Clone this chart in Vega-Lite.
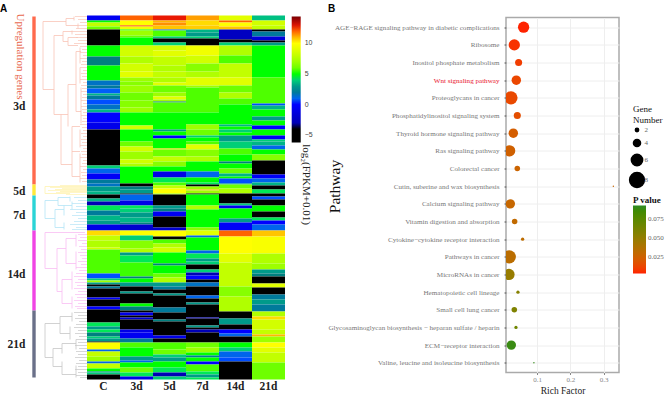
{"$schema":"https://vega.github.io/schema/vega-lite/v6.json","background":"white","padding":{"left":0,"top":2.5,"right":0,"bottom":0},"bounds":"flush","center":true,"spacing":0,"resolve":{"scale":{"color":"independent","size":"independent"},"legend":{"color":"independent","size":"independent"}},"config":{"view":{"stroke":null},"font":"Liberation Serif"},
"datasets":{
"cells":[
{"c":"C","a":14,"b":19,"v":-0.5},{"c":"C","a":19,"b":21,"v":5},{"c":"C","a":21,"b":25,"v":8},{"c":"C","a":25,"b":28,"v":6},{"c":"C","a":28,"b":44,"v":-5},{"c":"C","a":44,"b":55,"v":5},{"c":"C","a":55,"b":64,"v":2.5},{"c":"C","a":64,"b":79,"v":5},{"c":"C","a":79,"b":84,"v":1.5},{"c":"C","a":84,"b":87,"v":2},{"c":"C","a":87,"b":92,"v":0.8},{"c":"C","a":92,"b":94,"v":3.5},{"c":"C","a":94,"b":98,"v":2},{"c":"C","a":98,"b":103,"v":0.5},{"c":"C","a":103,"b":108,"v":1.5},{"c":"C","a":108,"b":111,"v":3.5},{"c":"C","a":111,"b":121,"v":0},{"c":"C","a":121,"b":128,"v":-0.8},{"c":"C","a":128,"b":164,"v":-5},{"c":"C","a":164,"b":167,"v":4},{"c":"C","a":167,"b":172,"v":1},{"c":"C","a":172,"b":178,"v":-0.3},{"c":"C","a":178,"b":182,"v":2},{"c":"C","a":182,"b":185,"v":1.5},{"c":"C","a":185,"b":190,"v":3},{"c":"C","a":190,"b":193,"v":3.5},{"c":"C","a":193,"b":197,"v":-5},{"c":"C","a":197,"b":200,"v":3.5},{"c":"C","a":200,"b":204,"v":-3},{"c":"C","a":204,"b":209,"v":4.5},{"c":"C","a":209,"b":214,"v":2},{"c":"C","a":214,"b":219,"v":3.5},{"c":"C","a":219,"b":223,"v":3},{"c":"C","a":223,"b":229,"v":-1},{"c":"C","a":229,"b":234,"v":10.5},{"c":"C","a":234,"b":239,"v":8},{"c":"C","a":239,"b":246,"v":7.5},{"c":"C","a":246,"b":248,"v":8.5},{"c":"C","a":248,"b":272,"v":5.5},{"c":"C","a":272,"b":277,"v":0.5},{"c":"C","a":277,"b":279,"v":4},{"c":"C","a":279,"b":281,"v":7},{"c":"C","a":281,"b":283,"v":3},{"c":"C","a":283,"b":285,"v":-4},{"c":"C","a":285,"b":287,"v":2},{"c":"C","a":287,"b":296,"v":-5},{"c":"C","a":296,"b":298,"v":0},{"c":"C","a":298,"b":305,"v":-5},{"c":"C","a":305,"b":308,"v":0},{"c":"C","a":308,"b":321,"v":-5},{"c":"C","a":321,"b":325,"v":4.5},{"c":"C","a":325,"b":328,"v":3},{"c":"C","a":328,"b":331,"v":4.5},{"c":"C","a":331,"b":335,"v":2.5},{"c":"C","a":335,"b":337,"v":4},{"c":"C","a":337,"b":340,"v":3},{"c":"C","a":340,"b":341,"v":-5},{"c":"C","a":341,"b":348,"v":10},{"c":"C","a":348,"b":350,"v":1},{"c":"C","a":350,"b":355,"v":8},{"c":"C","a":355,"b":360,"v":7},{"c":"C","a":360,"b":362,"v":1},{"c":"C","a":362,"b":367,"v":8},{"c":"C","a":367,"b":370,"v":5},{"c":"C","a":370,"b":371,"v":2},{"c":"C","a":371,"b":373,"v":4},{"c":"C","a":373,"b":378,"v":-5},
{"c":"3d","a":14,"b":19,"v":12},{"c":"3d","a":19,"b":24,"v":10},{"c":"3d","a":24,"b":25,"v":12.5},{"c":"3d","a":25,"b":28,"v":9.5},{"c":"3d","a":28,"b":29,"v":5},{"c":"3d","a":29,"b":34,"v":7},{"c":"3d","a":34,"b":36,"v":6},{"c":"3d","a":36,"b":44,"v":5},{"c":"3d","a":44,"b":55,"v":8.5},{"c":"3d","a":55,"b":62,"v":7.5},{"c":"3d","a":62,"b":70,"v":8.5},{"c":"3d","a":70,"b":76,"v":9},{"c":"3d","a":76,"b":80,"v":7},{"c":"3d","a":80,"b":84,"v":6.5},{"c":"3d","a":84,"b":91,"v":7},{"c":"3d","a":91,"b":99,"v":6},{"c":"3d","a":99,"b":106,"v":6.5},{"c":"3d","a":106,"b":111,"v":7},{"c":"3d","a":111,"b":124,"v":5},{"c":"3d","a":124,"b":128,"v":8.5},{"c":"3d","a":128,"b":140,"v":5},{"c":"3d","a":140,"b":145,"v":6},{"c":"3d","a":145,"b":150,"v":8.5},{"c":"3d","a":150,"b":158,"v":7},{"c":"3d","a":158,"b":162,"v":8.5},{"c":"3d","a":162,"b":165,"v":7.5},{"c":"3d","a":165,"b":182,"v":5},{"c":"3d","a":182,"b":185,"v":-5},{"c":"3d","a":185,"b":188,"v":2.5},{"c":"3d","a":188,"b":192,"v":3},{"c":"3d","a":192,"b":193,"v":-5},{"c":"3d","a":193,"b":199,"v":1},{"c":"3d","a":199,"b":204,"v":-1},{"c":"3d","a":204,"b":207,"v":4.5},{"c":"3d","a":207,"b":211,"v":4},{"c":"3d","a":211,"b":216,"v":3},{"c":"3d","a":216,"b":221,"v":3.5},{"c":"3d","a":221,"b":223,"v":2.5},{"c":"3d","a":223,"b":229,"v":-2},{"c":"3d","a":229,"b":234,"v":10},{"c":"3d","a":234,"b":239,"v":4},{"c":"3d","a":239,"b":247,"v":6.5},{"c":"3d","a":247,"b":251,"v":7.5},{"c":"3d","a":251,"b":254,"v":3},{"c":"3d","a":254,"b":261,"v":4.5},{"c":"3d","a":261,"b":275,"v":5.3},{"c":"3d","a":275,"b":277,"v":2.5},{"c":"3d","a":277,"b":281,"v":5},{"c":"3d","a":281,"b":285,"v":3},{"c":"3d","a":285,"b":290,"v":-5},{"c":"3d","a":290,"b":292,"v":3},{"c":"3d","a":292,"b":302,"v":-5},{"c":"3d","a":302,"b":305,"v":5},{"c":"3d","a":305,"b":309,"v":2.5},{"c":"3d","a":309,"b":311,"v":-5},{"c":"3d","a":311,"b":314,"v":-1},{"c":"3d","a":314,"b":316,"v":-5},{"c":"3d","a":316,"b":318,"v":-2},{"c":"3d","a":318,"b":328,"v":-5},{"c":"3d","a":328,"b":331,"v":-1},{"c":"3d","a":331,"b":337,"v":-0.5},{"c":"3d","a":337,"b":341,"v":2},{"c":"3d","a":341,"b":346,"v":5.5},{"c":"3d","a":346,"b":355,"v":5},{"c":"3d","a":355,"b":359,"v":3},{"c":"3d","a":359,"b":361,"v":1},{"c":"3d","a":361,"b":366,"v":5},{"c":"3d","a":366,"b":371,"v":6},{"c":"3d","a":371,"b":375,"v":4.5},{"c":"3d","a":375,"b":378,"v":-1},
{"c":"5d","a":14,"b":19,"v":12.8},{"c":"5d","a":19,"b":21,"v":11},{"c":"5d","a":21,"b":24,"v":11.5},{"c":"5d","a":24,"b":28,"v":10.8},{"c":"5d","a":28,"b":29,"v":1},{"c":"5d","a":29,"b":35,"v":5.5},{"c":"5d","a":35,"b":37,"v":4},{"c":"5d","a":37,"b":41,"v":-5},{"c":"5d","a":41,"b":44,"v":4},{"c":"5d","a":44,"b":49,"v":8.5},{"c":"5d","a":49,"b":55,"v":9},{"c":"5d","a":55,"b":64,"v":8},{"c":"5d","a":64,"b":70,"v":7.5},{"c":"5d","a":70,"b":76,"v":8},{"c":"5d","a":76,"b":81,"v":7.5},{"c":"5d","a":81,"b":84,"v":9},{"c":"5d","a":84,"b":91,"v":6},{"c":"5d","a":91,"b":95,"v":7},{"c":"5d","a":95,"b":98,"v":9},{"c":"5d","a":98,"b":100,"v":7},{"c":"5d","a":100,"b":101,"v":2.5},{"c":"5d","a":101,"b":111,"v":5.5},{"c":"5d","a":111,"b":128,"v":5},{"c":"5d","a":128,"b":130,"v":3},{"c":"5d","a":130,"b":134,"v":5},{"c":"5d","a":134,"b":137,"v":0},{"c":"5d","a":137,"b":147,"v":5},{"c":"5d","a":147,"b":148,"v":10.5},{"c":"5d","a":148,"b":155,"v":6},{"c":"5d","a":155,"b":160,"v":8},{"c":"5d","a":160,"b":165,"v":6.5},{"c":"5d","a":165,"b":170,"v":5},{"c":"5d","a":170,"b":176,"v":-1},{"c":"5d","a":176,"b":181,"v":4.5},{"c":"5d","a":181,"b":184,"v":5.5},{"c":"5d","a":184,"b":187,"v":8},{"c":"5d","a":187,"b":192,"v":10},{"c":"5d","a":192,"b":193,"v":7},{"c":"5d","a":193,"b":204,"v":-5},{"c":"5d","a":204,"b":207,"v":3},{"c":"5d","a":207,"b":210,"v":2.5},{"c":"5d","a":210,"b":215,"v":-0.5},{"c":"5d","a":215,"b":226,"v":-5},{"c":"5d","a":226,"b":229,"v":-2},{"c":"5d","a":229,"b":235,"v":10},{"c":"5d","a":235,"b":238,"v":-5},{"c":"5d","a":238,"b":242,"v":5.5},{"c":"5d","a":242,"b":246,"v":7.5},{"c":"5d","a":246,"b":251,"v":8.5},{"c":"5d","a":251,"b":262,"v":5},{"c":"5d","a":262,"b":264,"v":2.5},{"c":"5d","a":264,"b":272,"v":5},{"c":"5d","a":272,"b":276,"v":6},{"c":"5d","a":276,"b":281,"v":7.5},{"c":"5d","a":281,"b":285,"v":3},{"c":"5d","a":285,"b":288,"v":2},{"c":"5d","a":288,"b":292,"v":-5},{"c":"5d","a":292,"b":294,"v":3},{"c":"5d","a":294,"b":306,"v":-5},{"c":"5d","a":306,"b":311,"v":2},{"c":"5d","a":311,"b":318,"v":-5},{"c":"5d","a":318,"b":320,"v":2.5},{"c":"5d","a":320,"b":334,"v":-4},{"c":"5d","a":334,"b":337,"v":-1},{"c":"5d","a":337,"b":341,"v":-5},{"c":"5d","a":341,"b":348,"v":5.5},{"c":"5d","a":348,"b":353,"v":6},{"c":"5d","a":353,"b":356,"v":4},{"c":"5d","a":356,"b":360,"v":3},{"c":"5d","a":360,"b":366,"v":5},{"c":"5d","a":366,"b":371,"v":4.5},{"c":"5d","a":371,"b":375,"v":-3},{"c":"5d","a":375,"b":378,"v":4},
{"c":"7d","a":14,"b":19,"v":11.3},{"c":"7d","a":19,"b":24,"v":10.5},{"c":"7d","a":24,"b":28,"v":10.7},{"c":"7d","a":28,"b":31,"v":3.5},{"c":"7d","a":31,"b":35,"v":3},{"c":"7d","a":35,"b":37,"v":4},{"c":"7d","a":37,"b":44,"v":-5},{"c":"7d","a":44,"b":54,"v":9.5},{"c":"7d","a":54,"b":62,"v":8.5},{"c":"7d","a":62,"b":70,"v":6.5},{"c":"7d","a":70,"b":76,"v":7.5},{"c":"7d","a":76,"b":84,"v":9},{"c":"7d","a":84,"b":86,"v":7},{"c":"7d","a":86,"b":111,"v":5.5},{"c":"7d","a":111,"b":123,"v":5},{"c":"7d","a":123,"b":128,"v":7},{"c":"7d","a":128,"b":134,"v":6},{"c":"7d","a":134,"b":136,"v":4},{"c":"7d","a":136,"b":140,"v":5},{"c":"7d","a":140,"b":143,"v":5.5},{"c":"7d","a":143,"b":148,"v":9},{"c":"7d","a":148,"b":155,"v":6.5},{"c":"7d","a":155,"b":160,"v":7.5},{"c":"7d","a":160,"b":170,"v":5},{"c":"7d","a":170,"b":176,"v":1},{"c":"7d","a":176,"b":181,"v":5},{"c":"7d","a":181,"b":183,"v":4.5},{"c":"7d","a":183,"b":185,"v":-5},{"c":"7d","a":185,"b":188,"v":7},{"c":"7d","a":188,"b":189,"v":11},{"c":"7d","a":189,"b":192,"v":7},{"c":"7d","a":192,"b":193,"v":-5},{"c":"7d","a":193,"b":204,"v":5},{"c":"7d","a":204,"b":208,"v":7.5},{"c":"7d","a":208,"b":226,"v":5},{"c":"7d","a":226,"b":229,"v":6.5},{"c":"7d","a":229,"b":234,"v":9},{"c":"7d","a":234,"b":236,"v":1},{"c":"7d","a":236,"b":249,"v":5},{"c":"7d","a":249,"b":252,"v":1},{"c":"7d","a":252,"b":257,"v":4.5},{"c":"7d","a":257,"b":260,"v":3},{"c":"7d","a":260,"b":263,"v":4},{"c":"7d","a":263,"b":268,"v":-5},{"c":"7d","a":268,"b":271,"v":4},{"c":"7d","a":271,"b":274,"v":-3},{"c":"7d","a":274,"b":278,"v":0},{"c":"7d","a":278,"b":281,"v":-5},{"c":"7d","a":281,"b":285,"v":1.5},{"c":"7d","a":285,"b":294,"v":-5},{"c":"7d","a":294,"b":297,"v":1},{"c":"7d","a":297,"b":301,"v":-5},{"c":"7d","a":301,"b":303,"v":3},{"c":"7d","a":303,"b":316,"v":-5},{"c":"7d","a":316,"b":317,"v":-2},{"c":"7d","a":317,"b":324,"v":-5},{"c":"7d","a":324,"b":326,"v":3},{"c":"7d","a":326,"b":328,"v":-5},{"c":"7d","a":328,"b":331,"v":-3},{"c":"7d","a":331,"b":341,"v":-5},{"c":"7d","a":341,"b":346,"v":6},{"c":"7d","a":346,"b":351,"v":7},{"c":"7d","a":351,"b":354,"v":5},{"c":"7d","a":354,"b":356,"v":2},{"c":"7d","a":356,"b":360,"v":5},{"c":"7d","a":360,"b":363,"v":0},{"c":"7d","a":363,"b":370,"v":5.5},{"c":"7d","a":370,"b":373,"v":4.5},{"c":"7d","a":373,"b":376,"v":3},{"c":"7d","a":376,"b":378,"v":4.5},
{"c":"14d","a":14,"b":19,"v":9},{"c":"14d","a":19,"b":21,"v":12},{"c":"14d","a":21,"b":25,"v":10},{"c":"14d","a":25,"b":28,"v":10.8},{"c":"14d","a":28,"b":38,"v":-2.5},{"c":"14d","a":38,"b":41,"v":-5},{"c":"14d","a":41,"b":44,"v":4},{"c":"14d","a":44,"b":54,"v":7.5},{"c":"14d","a":54,"b":62,"v":5.5},{"c":"14d","a":62,"b":76,"v":8},{"c":"14d","a":76,"b":84,"v":9},{"c":"14d","a":84,"b":91,"v":6},{"c":"14d","a":91,"b":97,"v":7.5},{"c":"14d","a":97,"b":103,"v":5.5},{"c":"14d","a":103,"b":123,"v":5},{"c":"14d","a":123,"b":125,"v":3.5},{"c":"14d","a":125,"b":128,"v":5},{"c":"14d","a":128,"b":131,"v":4},{"c":"14d","a":131,"b":134,"v":5},{"c":"14d","a":134,"b":140,"v":3},{"c":"14d","a":140,"b":147,"v":4},{"c":"14d","a":147,"b":153,"v":5.5},{"c":"14d","a":153,"b":160,"v":5},{"c":"14d","a":160,"b":162,"v":2.5},{"c":"14d","a":162,"b":167,"v":5},{"c":"14d","a":167,"b":172,"v":6},{"c":"14d","a":172,"b":175,"v":3.5},{"c":"14d","a":175,"b":177,"v":5},{"c":"14d","a":177,"b":182,"v":0.5},{"c":"14d","a":182,"b":183,"v":3},{"c":"14d","a":183,"b":187,"v":6},{"c":"14d","a":187,"b":192,"v":7.5},{"c":"14d","a":192,"b":202,"v":-5},{"c":"14d","a":202,"b":204,"v":4},{"c":"14d","a":204,"b":207,"v":-0.5},{"c":"14d","a":207,"b":217,"v":5},{"c":"14d","a":217,"b":221,"v":3},{"c":"14d","a":221,"b":229,"v":-0.3},{"c":"14d","a":229,"b":235,"v":12},{"c":"14d","a":235,"b":252,"v":10},{"c":"14d","a":252,"b":261,"v":9},{"c":"14d","a":261,"b":285,"v":8},{"c":"14d","a":285,"b":295,"v":6.5},{"c":"14d","a":295,"b":310,"v":7.5},{"c":"14d","a":310,"b":317,"v":-5},{"c":"14d","a":317,"b":323,"v":3},{"c":"14d","a":323,"b":328,"v":-5},{"c":"14d","a":328,"b":332,"v":0},{"c":"14d","a":332,"b":335,"v":1},{"c":"14d","a":335,"b":341,"v":-5},{"c":"14d","a":341,"b":346,"v":5},{"c":"14d","a":346,"b":350,"v":4},{"c":"14d","a":350,"b":356,"v":1},{"c":"14d","a":356,"b":360,"v":0.5},{"c":"14d","a":360,"b":378,"v":-5},
{"c":"21d","a":14,"b":19,"v":3.7},{"c":"21d","a":19,"b":24,"v":8.5},{"c":"21d","a":24,"b":28,"v":8},{"c":"21d","a":28,"b":30,"v":-5},{"c":"21d","a":30,"b":35,"v":2},{"c":"21d","a":35,"b":39,"v":-1.5},{"c":"21d","a":39,"b":41,"v":-5},{"c":"21d","a":41,"b":44,"v":3},{"c":"21d","a":44,"b":76,"v":5},{"c":"21d","a":76,"b":102,"v":5.5},{"c":"21d","a":102,"b":104,"v":0.5},{"c":"21d","a":104,"b":108,"v":3.5},{"c":"21d","a":108,"b":115,"v":5},{"c":"21d","a":115,"b":119,"v":3},{"c":"21d","a":119,"b":124,"v":5},{"c":"21d","a":124,"b":128,"v":0},{"c":"21d","a":128,"b":134,"v":5},{"c":"21d","a":134,"b":138,"v":-0.5},{"c":"21d","a":138,"b":140,"v":4},{"c":"21d","a":140,"b":144,"v":3.5},{"c":"21d","a":144,"b":148,"v":1},{"c":"21d","a":148,"b":153,"v":5},{"c":"21d","a":153,"b":159,"v":6.5},{"c":"21d","a":159,"b":173,"v":-5},{"c":"21d","a":173,"b":177,"v":-0.3},{"c":"21d","a":177,"b":181,"v":1},{"c":"21d","a":181,"b":184,"v":3.5},{"c":"21d","a":184,"b":188,"v":-5},{"c":"21d","a":188,"b":192,"v":4.5},{"c":"21d","a":192,"b":195,"v":-5},{"c":"21d","a":195,"b":198,"v":0.5},{"c":"21d","a":198,"b":204,"v":-5},{"c":"21d","a":204,"b":210,"v":5},{"c":"21d","a":210,"b":216,"v":-5},{"c":"21d","a":216,"b":219,"v":4.5},{"c":"21d","a":219,"b":223,"v":0},{"c":"21d","a":223,"b":229,"v":1},{"c":"21d","a":229,"b":235,"v":10.8},{"c":"21d","a":235,"b":252,"v":9.8},{"c":"21d","a":252,"b":262,"v":7.5},{"c":"21d","a":262,"b":268,"v":7},{"c":"21d","a":268,"b":272,"v":3},{"c":"21d","a":272,"b":275,"v":2.5},{"c":"21d","a":275,"b":282,"v":-5},{"c":"21d","a":282,"b":286,"v":9},{"c":"21d","a":286,"b":293,"v":-5},{"c":"21d","a":293,"b":298,"v":2},{"c":"21d","a":298,"b":303,"v":3},{"c":"21d","a":303,"b":310,"v":2},{"c":"21d","a":310,"b":315,"v":7.5},{"c":"21d","a":315,"b":318,"v":10.5},{"c":"21d","a":318,"b":328,"v":8.5},{"c":"21d","a":328,"b":333,"v":8},{"c":"21d","a":333,"b":335,"v":11},{"c":"21d","a":335,"b":341,"v":7},{"c":"21d","a":341,"b":346,"v":10},{"c":"21d","a":346,"b":351,"v":9},{"c":"21d","a":351,"b":361,"v":8},{"c":"21d","a":361,"b":378,"v":6}
],
"groups":[{"g":"3d","a":15,"b":183,"m":105},{"g":"5d","a":183,"b":194,"m":190.6},{"g":"7d","a":194,"b":229,"m":214},{"g":"14d","a":229,"b":309,"m":273},{"g":"21d","a":309,"b":376,"m":343}],
"segs":[
{"g":"3d","x":43,"x2":66,"y":20,"y2":20},{"g":"3d","x":43,"x2":43,"y":20,"y2":88},{"g":"3d","x":43,"x2":54,"y":88,"y2":88},{"g":"3d","x":54,"x2":54,"y":34,"y2":113},{"g":"3d","x":54,"x2":63,"y":34,"y2":34},{"g":"3d","x":66,"x2":66,"y":17,"y2":24},{"g":"3d","x":66,"x2":74,"y":17,"y2":17},{"g":"3d","x":66,"x2":78,"y":24,"y2":24},{"g":"3d","x":74,"x2":74,"y":15,"y2":19},{"g":"3d","x":78,"x2":78,"y":22,"y2":27},{"g":"3d","x":63,"x2":63,"y":30,"y2":40},{"g":"3d","x":63,"x2":72,"y":30,"y2":30},{"g":"3d","x":63,"x2":68,"y":40,"y2":40},{"g":"3d","x":72,"x2":72,"y":29,"y2":33},{"g":"3d","x":68,"x2":68,"y":36,"y2":44},{"g":"3d","x":68,"x2":78,"y":36,"y2":36},{"g":"3d","x":68,"x2":78,"y":44,"y2":44},{"g":"3d","x":54,"x2":68,"y":113,"y2":113},{"g":"3d","x":68,"x2":68,"y":83,"y2":125},{"g":"3d","x":68,"x2":76,"y":83,"y2":83},{"g":"3d","x":76,"x2":76,"y":50,"y2":110},{"g":"3d","x":76,"x2":81,"y":50,"y2":50},{"g":"3d","x":76,"x2":81,"y":110,"y2":110},{"g":"3d","x":61,"x2":61,"y":113,"y2":163},{"g":"3d","x":61,"x2":72,"y":163,"y2":163},{"g":"3d","x":72,"x2":72,"y":125,"y2":175},{"g":"3d","x":72,"x2":80,"y":125,"y2":125},{"g":"3d","x":72,"x2":80,"y":150,"y2":150},{"g":"3d","x":72,"x2":80,"y":175,"y2":175},{"g":"3d","x":80,"x2":80,"y":46,"y2":62},{"g":"3d","x":80,"x2":80,"y":66,"y2":82},{"g":"3d","x":81,"x2":81,"y":86,"y2":122},{"g":"3d","x":80,"x2":80,"y":128,"y2":146},{"g":"3d","x":80,"x2":80,"y":152,"y2":181},
{"g":"5d","x":45,"x2":45,"y":185,"y2":192},{"g":"5d","x":45,"x2":87,"y":185,"y2":185},{"g":"5d","x":45,"x2":70,"y":192,"y2":192},{"g":"5d","x":55,"x2":87,"y":188,"y2":188},{"g":"5d","x":60,"x2":87,"y":190,"y2":190},
{"g":"7d","x":45,"x2":45,"y":199,"y2":217},{"g":"7d","x":45,"x2":58,"y":199,"y2":199},{"g":"7d","x":45,"x2":55,"y":217,"y2":217},{"g":"7d","x":58,"x2":58,"y":196,"y2":204},{"g":"7d","x":58,"x2":70,"y":196,"y2":196},{"g":"7d","x":58,"x2":72,"y":204,"y2":204},{"g":"7d","x":55,"x2":55,"y":208,"y2":226},{"g":"7d","x":55,"x2":64,"y":208,"y2":208},{"g":"7d","x":55,"x2":64,"y":226,"y2":226},{"g":"7d","x":64,"x2":64,"y":204,"y2":214},{"g":"7d","x":64,"x2":64,"y":221,"y2":228},{"g":"7d","x":70,"x2":70,"y":195,"y2":200},{"g":"7d","x":72,"x2":72,"y":200,"y2":208},
{"g":"14d","x":45,"x2":45,"y":231,"y2":267},{"g":"14d","x":45,"x2":85,"y":231,"y2":231},{"g":"14d","x":45,"x2":57,"y":267,"y2":267},{"g":"14d","x":57,"x2":57,"y":247,"y2":290},{"g":"14d","x":57,"x2":66,"y":247,"y2":247},{"g":"14d","x":57,"x2":62,"y":290,"y2":290},{"g":"14d","x":66,"x2":66,"y":237,"y2":262},{"g":"14d","x":66,"x2":76,"y":237,"y2":237},{"g":"14d","x":66,"x2":76,"y":262,"y2":262},{"g":"14d","x":62,"x2":62,"y":278,"y2":302},{"g":"14d","x":62,"x2":72,"y":278,"y2":278},{"g":"14d","x":62,"x2":72,"y":302,"y2":302},{"g":"14d","x":72,"x2":72,"y":270,"y2":288},{"g":"14d","x":72,"x2":72,"y":295,"y2":307},{"g":"14d","x":76,"x2":76,"y":233,"y2":245},{"g":"14d","x":76,"x2":76,"y":250,"y2":268},
{"g":"21d","x":45,"x2":45,"y":322,"y2":356},{"g":"21d","x":45,"x2":60,"y":322,"y2":322},{"g":"21d","x":45,"x2":53,"y":356,"y2":356},{"g":"21d","x":53,"x2":53,"y":347,"y2":365},{"g":"21d","x":53,"x2":62,"y":347,"y2":347},{"g":"21d","x":53,"x2":62,"y":365,"y2":365},{"g":"21d","x":60,"x2":60,"y":315,"y2":332},{"g":"21d","x":60,"x2":72,"y":315,"y2":315},{"g":"21d","x":60,"x2":70,"y":332,"y2":332},{"g":"21d","x":62,"x2":62,"y":342,"y2":352},{"g":"21d","x":62,"x2":62,"y":360,"y2":373},{"g":"21d","x":62,"x2":76,"y":342,"y2":342},{"g":"21d","x":62,"x2":76,"y":373,"y2":373},{"g":"21d","x":72,"x2":72,"y":311,"y2":320},{"g":"21d","x":70,"x2":70,"y":325,"y2":338},{"g":"21d","x":76,"x2":76,"y":338,"y2":348},{"g":"21d","x":76,"x2":76,"y":364,"y2":376}
],
"leaves":[
{"g":"3d","x":75,"y":15},{"g":"3d","x":78,"y":18},{"g":"3d","x":80,"y":21},{"g":"3d","x":78,"y":24},{"g":"3d","x":76,"y":27},{"g":"3d","x":72,"y":30},{"g":"3d","x":75,"y":33},{"g":"3d","x":76,"y":36},{"g":"3d","x":78,"y":39},{"g":"3d","x":74,"y":42},{"g":"3d","x":80,"y":45},{"g":"3d","x":82,"y":48},{"g":"3d","x":80,"y":51},{"g":"3d","x":83,"y":54},{"g":"3d","x":80,"y":57},{"g":"3d","x":82,"y":60},{"g":"3d","x":81,"y":63},{"g":"3d","x":80,"y":66},{"g":"3d","x":83,"y":69},{"g":"3d","x":81,"y":72},{"g":"3d","x":82,"y":75},{"g":"3d","x":80,"y":78},{"g":"3d","x":83,"y":81},{"g":"3d","x":81,"y":84},{"g":"3d","x":82,"y":87},{"g":"3d","x":81,"y":90},{"g":"3d","x":83,"y":93},{"g":"3d","x":82,"y":96},{"g":"3d","x":81,"y":99},{"g":"3d","x":83,"y":102},{"g":"3d","x":81,"y":105},{"g":"3d","x":82,"y":108},{"g":"3d","x":83,"y":111},{"g":"3d","x":81,"y":114},{"g":"3d","x":83,"y":117},{"g":"3d","x":82,"y":120},{"g":"3d","x":80,"y":123},{"g":"3d","x":82,"y":126},{"g":"3d","x":83,"y":129},{"g":"3d","x":81,"y":132},{"g":"3d","x":83,"y":135},{"g":"3d","x":81,"y":138},{"g":"3d","x":82,"y":141},{"g":"3d","x":80,"y":144},{"g":"3d","x":83,"y":147},{"g":"3d","x":81,"y":150},{"g":"3d","x":82,"y":153},{"g":"3d","x":80,"y":156},{"g":"3d","x":83,"y":159},{"g":"3d","x":82,"y":162},{"g":"3d","x":80,"y":165},{"g":"3d","x":83,"y":168},{"g":"3d","x":81,"y":171},{"g":"3d","x":82,"y":174},{"g":"3d","x":80,"y":177},{"g":"3d","x":82,"y":180},
{"g":"5d","x":60,"y":184},{"g":"5d","x":50,"y":186},{"g":"5d","x":62,"y":187},{"g":"5d","x":48,"y":189},{"g":"5d","x":56,"y":191},{"g":"5d","x":66,"y":193},
{"g":"7d","x":74,"y":196},{"g":"7d","x":78,"y":199},{"g":"7d","x":72,"y":202},{"g":"7d","x":76,"y":205},{"g":"7d","x":70,"y":208},{"g":"7d","x":76,"y":211},{"g":"7d","x":72,"y":214},{"g":"7d","x":78,"y":217},{"g":"7d","x":74,"y":220},{"g":"7d","x":70,"y":223},{"g":"7d","x":76,"y":226},{"g":"7d","x":72,"y":228},
{"g":"14d","x":78,"y":233},{"g":"14d","x":80,"y":236},{"g":"14d","x":78,"y":239},{"g":"14d","x":82,"y":242},{"g":"14d","x":79,"y":245},{"g":"14d","x":81,"y":248},{"g":"14d","x":78,"y":251},{"g":"14d","x":80,"y":254},{"g":"14d","x":82,"y":257},{"g":"14d","x":78,"y":260},{"g":"14d","x":81,"y":263},{"g":"14d","x":76,"y":266},{"g":"14d","x":79,"y":269},{"g":"14d","x":76,"y":272},{"g":"14d","x":74,"y":275},{"g":"14d","x":78,"y":278},{"g":"14d","x":75,"y":281},{"g":"14d","x":77,"y":284},{"g":"14d","x":74,"y":287},{"g":"14d","x":78,"y":290},{"g":"14d","x":75,"y":293},{"g":"14d","x":77,"y":296},{"g":"14d","x":74,"y":299},{"g":"14d","x":78,"y":302},{"g":"14d","x":75,"y":305},{"g":"14d","x":77,"y":307},
{"g":"21d","x":74,"y":311},{"g":"21d","x":78,"y":314},{"g":"21d","x":75,"y":317},{"g":"21d","x":79,"y":320},{"g":"21d","x":76,"y":323},{"g":"21d","x":74,"y":326},{"g":"21d","x":78,"y":329},{"g":"21d","x":75,"y":332},{"g":"21d","x":79,"y":335},{"g":"21d","x":76,"y":338},{"g":"21d","x":78,"y":341},{"g":"21d","x":75,"y":344},{"g":"21d","x":79,"y":347},{"g":"21d","x":76,"y":350},{"g":"21d","x":78,"y":353},{"g":"21d","x":75,"y":356},{"g":"21d","x":79,"y":359},{"g":"21d","x":76,"y":362},{"g":"21d","x":78,"y":365},{"g":"21d","x":75,"y":368},{"g":"21d","x":78,"y":371},{"g":"21d","x":76,"y":374},{"g":"21d","x":80,"y":376}
],
"paths":[
{"p":"AGE−RAGE signaling pathway in diabetic complications","r":0.059,"n":6,"q":0.003},
{"p":"Ribosome","r":0.031,"n":6,"q":0.006},
{"p":"Inositol phosphate metabolism","r":0.044,"n":4,"q":0.009},
{"p":"Wnt signaling pathway","r":0.037,"n":5,"q":0.012},
{"p":"Proteoglycans in cancer","r":0.021,"n":7,"q":0.013},
{"p":"Phosphatidylinositol signaling system","r":0.04,"n":4,"q":0.015},
{"p":"Thyroid hormone signaling pathway","r":0.028,"n":5,"q":0.022},
{"p":"Ras signaling pathway","r":0.017,"n":6,"q":0.024},
{"p":"Colorectal cancer","r":0.04,"n":3,"q":0.026},
{"p":"Cutin, suberine and wax biosynthesis","r":0.329,"n":1,"q":0.027},
{"p":"Calcium signaling pathway","r":0.019,"n":5,"q":0.028},
{"p":"Vitamin digestion and absorption","r":0.032,"n":3,"q":0.03},
{"p":"Cytokine−cytokine receptor interaction","r":0.056,"n":2,"q":0.032},
{"p":"Pathways in cancer","r":0.016,"n":7,"q":0.033},
{"p":"MicroRNAs in cancer","r":0.015,"n":6,"q":0.048},
{"p":"Hematopoietic cell lineage","r":0.042,"n":2,"q":0.055},
{"p":"Small cell lung cancer","r":0.031,"n":3,"q":0.058},
{"p":"Glycosaminoglycan biosynthesis − heparan sulfate / heparin","r":0.036,"n":2,"q":0.065},
{"p":"ECM−receptor interaction","r":0.022,"n":5,"q":0.088},
{"p":"Valine, leucine and isoleucine biosynthesis","r":0.09,"n":1,"q":0.09}
]},
"hconcat":[
{"width":87,"height":369,
"title":{"text":"A","anchor":"start","frame":"group","offset":-3.5,"font":"Liberation Sans","fontSize":10,"fontWeight":"bold","color":"black"},
"resolve":{"scale":{"color":"independent"}},
"layer":[
{"data":{"name":"leaves"},"mark":{"type":"rule","strokeWidth":0.7},"encoding":{"x":{"field":"x","type":"quantitative","scale":{"domain":[0,87],"nice":false},"axis":null},"x2":{"datum":87},"y":{"field":"y","type":"quantitative","scale":{"domain":[9,378],"reverse":true,"nice":false},"axis":null},"color":{"field":"g","scale":{"domain":["3d","5d","7d","14d","21d"],"range":["#f9c4b6","#fff2b0","#b4e4f6","#f9bdf2","#c6c6c6"]},"legend":null}}},
{"data":{"name":"segs"},"mark":{"type":"rule","strokeWidth":0.8},"encoding":{"x":{"field":"x","type":"quantitative","scale":{"domain":[0,87],"nice":false},"axis":null},"x2":{"field":"x2"},"y":{"field":"y","type":"quantitative","scale":{"domain":[9,378],"reverse":true,"nice":false},"axis":null},"y2":{"field":"y2"},"color":{"field":"g","scale":{"domain":["3d","5d","7d","14d","21d"],"range":["#f9c4b6","#fff2b0","#b4e4f6","#f9bdf2","#c6c6c6"]},"legend":null}}},
{"data":{"name":"groups"},"mark":{"type":"rect"},"encoding":{"x":{"datum":32.3,"type":"quantitative","scale":{"domain":[0,87],"nice":false},"axis":null},"x2":{"datum":35.7},"y":{"field":"a","type":"quantitative","scale":{"domain":[9,378],"reverse":true,"nice":false},"axis":null},"y2":{"field":"b"},"color":{"field":"g","scale":{"domain":["3d","5d","7d","14d","21d"],"range":["#ff6a4d","#ffe83a","#2bd4d6","#f044e4","#6a7089"]},"legend":null}}},
{"data":{"name":"groups"},"mark":{"type":"text","align":"right","font":"Liberation Serif","fontSize":11.5,"fontWeight":"bold","color":"#222"},"encoding":{"x":{"datum":25.5,"type":"quantitative","scale":{"domain":[0,87],"nice":false},"axis":null},"y":{"field":"m","type":"quantitative","scale":{"domain":[9,378],"reverse":true,"nice":false},"axis":null},"text":{"field":"g"}}},
{"data":{"values":[{"t":"Upregulation genes","m":55}]},"mark":{"type":"text","angle":90,"baseline":"middle","font":"Liberation Serif","fontSize":11,"color":"#e8684e"},"encoding":{"x":{"datum":20,"type":"quantitative","scale":{"domain":[0,87],"nice":false},"axis":null},"y":{"field":"m","type":"quantitative","scale":{"domain":[9,378],"reverse":true,"nice":false},"axis":null},"text":{"field":"t"}}}
]},
{"width":419,"height":369,"data":{"name":"cells"},"mark":{"type":"rect"},
"encoding":{
"x":{"field":"c","type":"nominal","sort":["C","3d","5d","7d","14d","21d"],"scale":{"range":[0,198],"paddingInner":0,"paddingOuter":0},"axis":{"orient":"bottom","title":null,"domain":false,"ticks":false,"labelAngle":0,"labelFont":"Liberation Serif","labelFontSize":11.5,"labelFontWeight":"bold","labelColor":"#222","labelPadding":1}},
"y":{"field":"a","type":"quantitative","scale":{"domain":[9,378],"reverse":true,"nice":false},"axis":{"orient":"right","title":"log₂(FPKM+0.01)","labels":false,"ticks":false,"domain":false,"grid":false,"titleAngle":90,"titleFont":"Liberation Serif","titleFontSize":11,"titleFontWeight":"normal","titleColor":"#222","titleX":-206,"titleY":173.5}},
"y2":{"field":"b"},
"color":{"field":"v","type":"quantitative","scale":{"domain":[-6.2,-3.5,0,2.5,5,10,12.5,14.4],"range":["#000000","#000000","#0000ff","#007f7f","#00ff00","#ffff00","#ff2000","#7a0000"],"clamp":true},"legend":{"orient":"none","legendX":204.7,"legendY":6,"title":null,"gradientLength":126,"gradientThickness":9,"values":[-5,0,5,10],"labelFont":"Liberation Sans","labelFontSize":7,"labelColor":"#444","labelOffset":4}}}
},
{"width":113,"height":355,"view":{"stroke":"#aaaaaa","strokeWidth":1.5},
"title":{"text":"B","anchor":"start","frame":"group","dx":-178,"offset":3.5,"font":"Liberation Sans","fontSize":10,"fontWeight":"bold","color":"black"},
"data":{"name":"paths"},"mark":{"type":"circle","opacity":1,"clip":true},
"encoding":{
"x":{"field":"r","type":"quantitative","scale":{"domain":[0.006,0.346],"nice":false,"zero":false},"axis":{"values":[0.1,0.2,0.3],"format":".1f","title":"Rich Factor","titleFont":"Liberation Serif","titleFontSize":9.5,"titleFontWeight":"normal","titleColor":"#222","titleY":17.7,"titleBaseline":"middle","labelFont":"Liberation Serif","labelFontSize":7,"labelColor":"#888","grid":true,"gridColor":"#eeeeee","domain":false,"tickColor":"#888","tickSize":2,"labelPadding":1}},
"y":{"field":"p","type":"nominal","sort":null,"scale":{"padding":0.55},"axis":{"title":"Pathway","titleFont":"Liberation Serif","titleFontSize":15.5,"titleFontWeight":"normal","titleColor":"#111","titleX":-164,"titleY":168.5,"labelFont":"Liberation Serif","labelFontSize":7.1,"labelColor":{"condition":{"test":"datum.value === 'Wnt signaling pathway'","value":"#e8102a"},"value":"#777777"},"grid":true,"gridColor":"#eeeeee","domain":false,"tickColor":"#555","tickSize":2,"labelPadding":5,"labelLimit":260}},
"size":{"field":"n","type":"quantitative","scale":{"domain":[1,2,4,6,8],"range":[2,10.8,50,127,219]},"legend":{"orient":"none","legendX":127,"legendY":87,"values":[2,4,6,8],"title":["Gene","Number"],"titleFont":"Liberation Serif","titleFontSize":9,"titleFontWeight":"normal","titleColor":"#111","titlePadding":2,"labelFont":"Liberation Serif","labelFontSize":7,"labelColor":"#666","symbolFillColor":"black","symbolStrokeColor":"black","symbolType":"circle","symbolOffset":-4.5,"labelOffset":-1,"rowPadding":0}},
"color":{"field":"q","type":"quantitative","scale":{"domain":[0.0026,0.0925],"range":["#ff2000","#2e8b22"]},"legend":{"orient":"none","legendX":127,"legendY":178,"title":"P value","values":[0.025,0.05,0.075],"format":".3f","gradientLength":68,"gradientThickness":13,"titleFont":"Liberation Serif","titleFontSize":9,"titleFontWeight":"bold","titleColor":"#111","titlePadding":1,"labelFont":"Liberation Serif","labelFontSize":7,"labelColor":"#666"}}
}}
]}
